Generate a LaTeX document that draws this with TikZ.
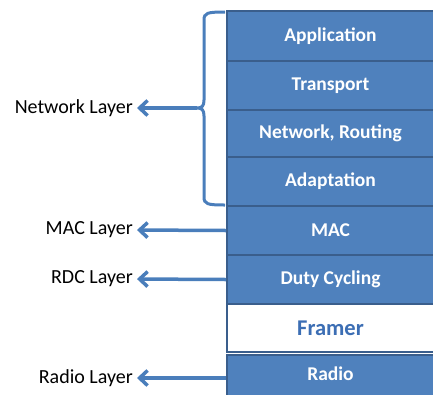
\documentclass[tikz,border=0pt]{standalone}
\usepackage{fontspec}
\setmainfont{Carlito}
\usetikzlibrary{arrows.meta}
\definecolor{boxblue}{RGB}{79,129,189}
\definecolor{boxedge}{RGB}{58,94,140}
\definecolor{arrowblue}{RGB}{74,126,187}
\definecolor{framertext}{RGB}{60,110,180}
\begin{document}
\begin{tikzpicture}[x=1pt,y=-1pt,
  layerbox/.style={draw=boxedge, line width=2pt, fill=boxblue, minimum width=207pt, inner sep=0pt, text=white, font=\bfseries\fontsize{19.5}{21}\selectfont},
  framerbox/.style={draw=boxedge, line width=2pt, fill=white, minimum width=207pt, inner sep=0pt, text=framertext, font=\bfseries\fontsize{22.5}{24}\selectfont},
  boxtext/.style={inner sep=0pt, text=white, font=\bfseries\fontsize{19.5}{21}\selectfont},
  lbl/.style={inner sep=0pt, anchor=east, text=black, font=\fontsize{20}{22}\selectfont},
  arr/.style={draw=arrowblue, line width=3.5pt, -{Straight Barb[length=8pt,width=15pt,line width=3.5pt]}, shorten >=4pt},
  bracestyle/.style={draw=arrowblue, line width=3pt}
]
\useasboundingbox (0,0) rectangle (433,394);
\clip (0,0) rectangle (433,394);
% layer boxes
\node[layerbox, minimum height=50pt] (app) at (330.5,36) {Application};
\node[layerbox, minimum height=49pt] (trans) at (330.5,85.5) {Transport};
\node[layerbox, minimum height=47pt] (net) at (330.5,133.5) {Network, Routing};
\node[layerbox, minimum height=49pt] (adapt) at (330.5,181.5) {Adaptation};
\node[layerbox, minimum height=49pt] (mac) at (330.5,230.5) {MAC};
\node[layerbox, minimum height=49pt] (duty) at (330.5,279.5) {Duty Cycling};
\node[framerbox, minimum height=48pt] (framer) at (330.5,328) {Framer};
\node[layerbox, minimum height=44pt] (radio) at (330.5,377) {};
\node[boxtext] (radiotxt) at (330.5,373.5) {Radio};
% labels
\node[lbl] (netl) at (133,108) {Network Layer};
\node[lbl] (macl) at (133,230) {MAC Layer};
\node[lbl] (rdcl) at (133,279) {RDC Layer};
\node[lbl] (radiol) at (133,378) {Radio Layer};
% brace
\coordinate (bt) at (225,12);
\coordinate (bb) at (225,205);
\coordinate (cusp) at (197,108);
\draw[bracestyle] (bt) .. controls (207,12) and (204,13) .. (204,20) -- (204,100)
  .. controls (204,106) and (202,108) .. (cusp)
  .. controls (202,108) and (204,110) .. (204,116) -- (204,197)
  .. controls (204,204) and (207,205) .. (bb);
% arrows
\draw[arr] (cusp) -- (netl.east);
\draw[arr] (mac.west) -- (macl.east);
\draw[arr] (duty.west) -- (rdcl.east);
\draw[arr] (radio.west |- radiol.east) -- (radiol.east);
\end{tikzpicture}
\end{document}
